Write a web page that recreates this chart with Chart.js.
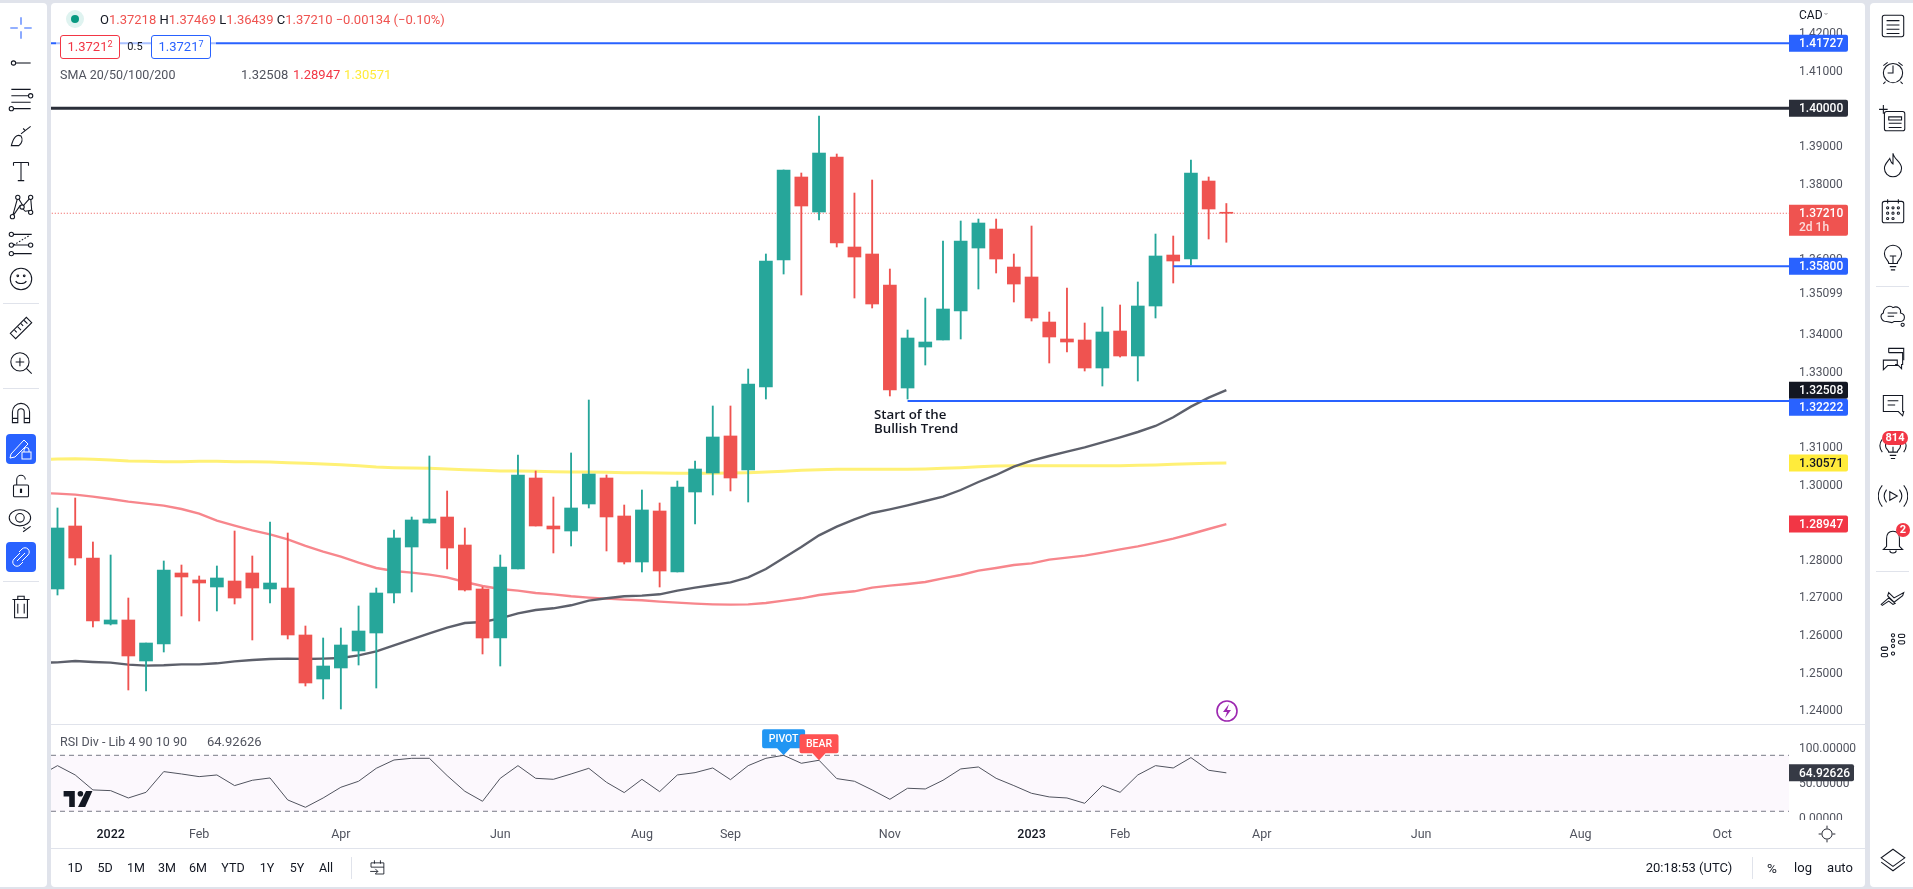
<!DOCTYPE html>
<html>
<head>
<meta charset="utf-8">
<title>USD/CAD weekly</title>
<script src="https://cdn.jsdelivr.net/npm/chart.js@4"></script>
<style>
  html, body { margin: 0; padding: 0; width: 1913px; height: 889px; overflow: hidden; background: #e0e3eb; font-family: Roboto, sans-serif; color: #131722; }
  .abs { position: absolute; white-space: nowrap; }
  .panel { position: absolute; background: #fff; }
  canvas { position: absolute; display: block; }
  .txt { font-size: 12.5px; line-height: 16px; transform: translateY(-50%); }
  .mid { transform: translate(-50%, -50%); }
  .hr { position: absolute; background: #e0e3eb; }
  .box { position: absolute; box-sizing: border-box; height: 24px; width: 60px; top: 35px; background: #fff; border-radius: 3px; border: 1px solid; font-size: 13px; line-height: 22px; text-align: center; }
  .box sup { font-size: 9px; line-height: 0; vertical-align: 4px; }
  svg.icon { position: absolute; fill: none; stroke: #131722; stroke-width: 1; }
</style>
</head>
<body>
<div class="panel" style="left:0;top:3px;width:47px;height:884px;border-radius:0 4px 4px 0"></div>
<div class="panel" style="left:51px;top:3px;width:1814px;height:884px;border-radius:4px"></div>
<div class="panel" style="left:1870px;top:3px;width:43px;height:884px;border-radius:4px 0 0 4px"></div>
<canvas id="priceChart" width="1814" height="721" style="left:51px;top:3px"></canvas>
<canvas id="rsiChart" width="1814" height="123" style="left:51px;top:725px"></canvas>
<div class="panel" style="left:1789px;top:820px;width:76px;height:28px"></div>
<div class="hr" style="left:51px;top:724px;width:1814px;height:1px"></div>
<div class="hr" style="left:51px;top:848px;width:1814px;height:1px"></div>
<div id="overlay"></div>
<script>
// weekly candles, one entry per bar
const opens = [1.27223,1.28897,1.28047,1.26292,1.26399,1.25309,1.25761,1.27648,1.27462,1.27276,1.27435,1.27648,1.27223,1.27249,1.26000,1.24830,1.25123,1.25575,1.26053,1.27116,1.28339,1.28977,1.29136,1.28392,1.27223,1.25920,1.27754,1.30173,1.28897,1.28764,1.29482,1.30173,1.29163,1.27940,1.29296,1.27675,1.29801,1.30306,1.31290,1.30386,1.32592,1.35967,1.38174,1.37243,1.38705,1.36313,1.36127,1.35303,1.32565,1.33655,1.33841,1.34612,1.36286,1.36791,1.35781,1.35516,1.34319,1.33868,1.33841,1.33097,1.34080,1.33416,1.34745,1.36100,1.35994,1.38067,1.37218];
const highs = [1.29376,1.29641,1.28472,1.28126,1.26983,1.25787,1.27967,1.27860,1.27568,1.27834,1.28764,1.28100,1.29003,1.28711,1.26239,1.25920,1.26186,1.26771,1.27249,1.28791,1.29136,1.30758,1.29827,1.28844,1.27276,1.28126,1.30784,1.30359,1.29668,1.30838,1.32246,1.30253,1.29455,1.29854,1.29509,1.30093,1.30625,1.32087,1.32087,1.33070,1.36127,1.38360,1.38280,1.39795,1.38785,1.37748,1.38094,1.35728,1.34107,1.34957,1.36472,1.37004,1.37057,1.37057,1.36127,1.36871,1.34585,1.35223,1.34293,1.34718,1.34771,1.35383,1.36658,1.36605,1.38625,1.38174,1.37469];
const lows = [1.27063,1.27860,1.26213,1.26266,1.24538,1.24511,1.25548,1.26505,1.26372,1.26638,1.26824,1.25867,1.26850,1.25894,1.24644,1.24299,1.24033,1.25202,1.24591,1.26850,1.27143,1.28977,1.27754,1.27169,1.25495,1.25176,1.27754,1.28897,1.28180,1.28366,1.29376,1.28233,1.27887,1.27675,1.27276,1.27675,1.28950,1.29721,1.29828,1.29535,1.32273,1.35595,1.35037,1.37031,1.36313,1.34957,1.34692,1.32353,1.32273,1.33176,1.33841,1.33868,1.35197,1.35622,1.34851,1.34346,1.33230,1.33522,1.33017,1.32618,1.33389,1.32751,1.34426,1.35356,1.35834,1.36526,1.36439];
const closes = [1.28844,1.28047,1.26372,1.26399,1.25442,1.25787,1.27728,1.27542,1.27382,1.27515,1.26983,1.27249,1.27382,1.26000,1.24724,1.25176,1.25734,1.26106,1.27116,1.28578,1.29057,1.29083,1.28312,1.27196,1.25920,1.27807,1.30253,1.28897,1.28818,1.29376,1.30279,1.29137,1.27940,1.29323,1.27701,1.29934,1.30412,1.31263,1.30173,1.32672,1.35941,1.38360,1.37403,1.38811,1.36419,1.36047,1.34798,1.32512,1.33894,1.33788,1.34665,1.36472,1.36951,1.35994,1.35329,1.34426,1.33921,1.33788,1.33097,1.34054,1.33416,1.34745,1.36074,1.35941,1.38280,1.37323,1.37210];

// moving averages
const smaGray = [1.25273,1.25309,1.25282,1.25265,1.25211,1.25185,1.25194,1.25220,1.25220,1.25247,1.25300,1.25335,1.25362,1.25371,1.25362,1.25371,1.25389,1.25459,1.25566,1.25725,1.25885,1.26044,1.26195,1.26319,1.26345,1.26443,1.26576,1.26664,1.26709,1.26789,1.26913,1.26975,1.27028,1.27046,1.27081,1.27178,1.27258,1.27329,1.27400,1.27533,1.27754,1.28047,1.28339,1.28649,1.28880,1.29075,1.29243,1.29340,1.29447,1.29562,1.29677,1.29854,1.30067,1.30253,1.30474,1.30634,1.30758,1.30873,1.30988,1.31121,1.31254,1.31396,1.31555,1.31786,1.32069,1.32308,1.32508];
const smaRed = [1.29757,1.29730,1.29677,1.29615,1.29544,1.29491,1.29438,1.29349,1.29225,1.29039,1.28906,1.28782,1.28676,1.28543,1.28366,1.28215,1.28082,1.27923,1.27781,1.27701,1.27657,1.27604,1.27533,1.27409,1.27302,1.27223,1.27178,1.27116,1.27081,1.27028,1.26992,1.26966,1.26939,1.26922,1.26886,1.26860,1.26833,1.26815,1.26806,1.26815,1.26851,1.26913,1.26975,1.27063,1.27116,1.27161,1.27258,1.27311,1.27356,1.27409,1.27506,1.27595,1.27710,1.27781,1.27861,1.27905,1.28002,1.28056,1.28109,1.28189,1.28277,1.28357,1.28454,1.28561,1.28685,1.28818,1.28947];
const smaYellow = [1.30678,1.30687,1.30669,1.30651,1.30625,1.30616,1.30607,1.30607,1.30616,1.30616,1.30607,1.30607,1.30598,1.30580,1.30563,1.30545,1.30527,1.30501,1.30465,1.30448,1.30439,1.30430,1.30412,1.30394,1.30377,1.30359,1.30359,1.30350,1.30341,1.30333,1.30333,1.30324,1.30315,1.30315,1.30306,1.30297,1.30297,1.30297,1.30306,1.30315,1.30333,1.30350,1.30377,1.30395,1.30404,1.30404,1.30404,1.30404,1.30404,1.30412,1.30430,1.30448,1.30475,1.30492,1.30501,1.30501,1.30501,1.30501,1.30501,1.30501,1.30501,1.30510,1.30519,1.30536,1.30554,1.30563,1.30571];

const rsiValues = [75.2,61.9,40.5,39.5,29.0,37.1,66.7,63.3,59.5,61.9,46.7,54.3,57.6,26.2,15.7,29.0,44.3,52.9,71.4,83.3,85.7,85.7,61.0,38.6,24.3,57.1,75.2,57.1,55.7,63.3,71.4,51.4,36.7,55.7,38.1,61.9,65.2,71.9,55.2,75.2,85.7,90.0,78.6,82.9,56.7,52.9,40.5,27.1,42.9,41.9,54.3,70.5,73.3,57.1,46.7,35.7,30.5,29.0,21.4,46.7,37.1,61.9,75.2,71.9,86.7,68.6,64.93];

// the bar just off the left edge, so the lines run out to the border
const prevGray = 1.25256, prevRed = 1.29775, prevYellow = 1.30660, prevRsi = 61;

// axis ticks
const priceTicks = [1.42,1.41,1.39,1.38,1.36,1.35099,1.34,1.33,1.31,1.30,1.28,1.27,1.26,1.25,1.24];
const rsiTicks = [100,50,0];
const timeTickBars = [3,8,16,25,33,38,47,55,60,68,77,86,94];
const timeTickLabels = ["2022","Feb","Apr","Jun","Aug","Sep","Nov","2023","Feb","Apr","Jun","Aug","Oct"];
const timeTickYears = ["2022","2023"];

// drawn levels: price and the bar they start from
const levelPrices = [1.41727,1.40,1.358,1.32222];
const levelStartBars = [-1,-1,63,48];
const lastPrice = 1.37210;

// price tags on the right axis (tagShift: the 1.32222 tag gets pushed down by its neighbour)
const tagPrices = [1.41727,1.40,1.37210,1.358,1.32508,1.32222,1.30571,1.28947];
const tagColors = ["#2962ff","#2a2e39","#ef5350","#2962ff","#131722","#2962ff","#ffeb3b","#f23645"];
const tagTexts = ["1.41727","1.40000","1.37210","1.35800","1.32508","1.32222","1.30571","1.28947"];
const tagShift = [0,0,0,0,0,6.4,0,0];

const upColor = "#26a69a";
const downColor = "#ef5350";
const fontFamily = "Roboto, sans-serif";
const barIdx = opens.map((_, i) => i);
const xMin = -0.367, xMax = 97.77;

function seriesPoints(values, prev) {
  return [{ x: -1, y: prev }].concat(values.map((v, i) => ({ x: i, y: v })));
}
function flatLine(value, fromBar) {
  return [{ x: fromBar, y: value }, { x: xMax, y: value }];
}
function lineSet(data, color, width, order, extra) {
  return Object.assign({ type: "line", data: data, borderColor: color, borderWidth: width, pointRadius: 0, order: order, tension: 0 }, extra || {});
}
// fixed width axis, without the label padding chart.js would add to the plot
function fitAxis(scale) {
  scale.width = 76;
  scale.paddingTop = 0;
  scale.paddingBottom = 0;
}
function fitTimeAxis(scale) {
  scale.height = 27;
  scale.paddingLeft = 0;
  scale.paddingRight = 0;
}

const candleColors = barIdx.map(i => closes[i] >= opens[i] ? upColor : downColor);

// price tags and the note on the chart
const priceOverlay = {
  id: "priceOverlay",
  afterDraw(chart) {
    const ctx = chart.ctx, y = chart.scales.y, x = chart.scales.x;
    const right = chart.chartArea.right;
    ctx.save();
    ctx.textBaseline = "middle";
    tagPrices.forEach((p, i) => {
      const py = y.getPixelForValue(p) + tagShift[i];
      const h = p === lastPrice ? 31 : 17;
      const top = py - 8.5;
      ctx.fillStyle = tagColors[i];
      ctx.beginPath();
      ctx.roundRect(right, top, 59, h, [0, 2, 2, 0]);
      ctx.fill();
      ctx.fillStyle = tagColors[i] === "#ffeb3b" ? "#131722" : "#fff";
      ctx.font = "500 12px " + fontFamily;
      ctx.fillText(tagTexts[i], right + 10, py + 1);
      if (p === lastPrice) {
        ctx.fillStyle = "rgba(255,255,255,.8)";
        ctx.fillText("2d 1h", right + 10, py + 15);
      }
    });
    ctx.fillStyle = "#131722";
    ctx.font = "600 13.3px 'Open Sans', sans-serif";
    ctx.fillText("Start of the", x.getPixelForValue(46.1), y.getPixelForValue(1.32222) + 14);
    ctx.fillText("Bullish Trend", x.getPixelForValue(46.1), y.getPixelForValue(1.32222) + 28);
    ctx.restore();
  }
};

const priceChart = new Chart(document.getElementById("priceChart"), {
  type: "bar",
  data: {
    datasets: [
      lineSet(flatLine(levelPrices[0], levelStartBars[0]), "#2962ff", 2, 0),
      lineSet(flatLine(levelPrices[1], levelStartBars[1]), "#2a2e39", 3, 0),
      lineSet(flatLine(levelPrices[2], levelStartBars[2]), "#2962ff", 2, 0),
      lineSet(flatLine(levelPrices[3], levelStartBars[3]), "#2962ff", 2, 0),
      { data: barIdx.map(i => ({ x: i, y: [opens[i], closes[i]] })), backgroundColor: candleColors, barThickness: 13, minBarLength: 1, grouped: false, order: 1 },
      { data: barIdx.map(i => ({ x: i, y: [lows[i], highs[i]] })), backgroundColor: candleColors, barThickness: 1.2, grouped: false, order: 2 },
      lineSet(seriesPoints(smaGray, prevGray), "#5d606b", 2.4, 3),
      lineSet(seriesPoints(smaRed, prevRed), "#f7868c", 2.4, 3),
      lineSet(seriesPoints(smaYellow, prevYellow), "#fff176", 3, 3),
      lineSet(flatLine(lastPrice, levelStartBars[0]), "#ef5350", 1, 4, { borderDash: [1, 2] })
    ]
  },
  options: {
    responsive: false,
    animation: false,
    layout: { padding: 0 },
    plugins: { legend: { display: false }, tooltip: { enabled: false } },
    scales: {
      x: { type: "linear", min: xMin, max: xMax, offset: false, display: false },
      y: {
        position: "right",
        min: 1.23634,
        max: 1.42799,
        afterFit: fitAxis,
        afterBuildTicks(scale) { scale.ticks = priceTicks.map(v => ({ value: v })); },
        border: { display: false },
        grid: { display: false, drawTicks: false },
        ticks: {
          padding: 10,
          labelOffset: 1,
          color: "#50535e",
          font: { family: fontFamily, size: 12 },
          callback: v => v.toFixed(5)
        }
      }
    }
  },
  plugins: [priceOverlay]
});

// value tag, pivot flags on the rsi pane
const rsiOverlay = {
  id: "rsiOverlay",
  afterDraw(chart) {
    const ctx = chart.ctx, x = chart.scales.x, y = chart.scales.y;
    const right = chart.chartArea.right;
    function flag(text, bar, color, w) {
      const px = x.getPixelForValue(bar), tip = y.getPixelForValue(rsiValues[bar]);
      ctx.fillStyle = color;
      ctx.beginPath();
      ctx.roundRect(px - w / 2, tip - 26, w, 19, 2);
      ctx.moveTo(px - 7, tip - 7.5);
      ctx.lineTo(px + 7, tip - 7.5);
      ctx.lineTo(px, tip);
      ctx.fill();
      ctx.fillStyle = "#fff";
      ctx.font = "500 10.5px " + fontFamily;
      ctx.textAlign = "center";
      ctx.textBaseline = "middle";
      ctx.fillText(text, px, tip - 16);
    }
    ctx.save();
    flag("PIVOT", 41, "#2196f3", 43);
    flag("BEAR", 43, "#ff5252", 39);
    const last = rsiValues[rsiValues.length - 1];
    const ly = y.getPixelForValue(last);
    ctx.fillStyle = "#363a45";
    ctx.beginPath();
    ctx.roundRect(right, ly - 8.5, 65, 17, [0, 2, 2, 0]);
    ctx.fill();
    ctx.fillStyle = "#fff";
    ctx.textAlign = "left";
    ctx.font = "500 12px " + fontFamily;
    ctx.fillText("64.92626", right + 10, ly + 1);
    ctx.restore();
  }
};

new Chart(document.getElementById("rsiChart"), {
  type: "line",
  data: {
    datasets: [
      lineSet([{ x: xMin, y: 90 }, { x: xMax, y: 90 }], "#787b86", 1, 2, { borderDash: [5, 4], fill: "+1", backgroundColor: "rgba(156,39,176,0.03)" }),
      lineSet([{ x: xMin, y: 10 }, { x: xMax, y: 10 }], "#787b86", 1, 2, { borderDash: [5, 4] }),
      lineSet(seriesPoints(rsiValues, prevRsi), "#50535e", 1, 1)
    ]
  },
  options: {
    responsive: false,
    animation: false,
    layout: { padding: 0 },
    plugins: { legend: { display: false }, tooltip: { enabled: false } },
    scales: {
      x: {
        type: "linear",
        min: xMin,
        max: xMax,
        offset: false,
        afterFit: fitTimeAxis,
        afterBuildTicks(scale) { scale.ticks = timeTickBars.map(v => ({ value: v })); },
        afterTickToLabelConversion(scale) { scale.ticks.forEach((t, i) => { t.label = timeTickLabels[i]; }); },
        border: { display: false },
        grid: { display: false, drawTicks: false },
        ticks: {
          padding: 6,
          autoSkip: false,
          maxRotation: 0,
          color: ctx => timeTickYears.includes(timeTickLabels[ctx.index]) ? "#131722" : "#50535e",
          font: ctx => ({ family: fontFamily, size: 12.5, weight: timeTickYears.includes(timeTickLabels[ctx.index]) ? "500" : "400" })
        }
      },
      y: {
        position: "right",
        min: -3.9,
        max: 133.3,
        afterFit: fitAxis,
        afterBuildTicks(scale) { scale.ticks = rsiTicks.map(v => ({ value: v })); },
        border: { display: false },
        grid: { display: false, drawTicks: false },
        ticks: { padding: 10, labelOffset: 1, color: "#50535e", font: { family: fontFamily, size: 12 }, callback: v => v.toFixed(5) }
      }
    }
  },
  plugins: [rsiOverlay]
});

// page chrome around the charts
const overlay = document.getElementById("overlay");
function text(str, x, y, color, size, extra) {
  const d = document.createElement("div");
  d.className = "abs txt" + (extra && extra.mid ? " mid" : "");
  d.style.left = x + "px";
  d.style.top = y + "px";
  d.style.color = color || "#131722";
  if (size) d.style.fontSize = size + "px";
  d.innerHTML = str;
  overlay.appendChild(d);
}
function icon(inner, cx, cy, size, extraStyle) {
  const s = size || 28;
  overlay.insertAdjacentHTML("beforeend", '<svg class="icon" viewBox="0 0 28 28" width="' + s + '" height="' + s + '" style="left:' + (cx - s / 2) + 'px;top:' + (cy - s / 2) + 'px;' + (extraStyle || "") + '">' + inner + "</svg>");
}
function hrule(x, y, w) {
  overlay.insertAdjacentHTML("beforeend", '<div class="hr" style="left:' + x + 'px;top:' + y + 'px;width:' + w + 'px;height:1px"></div>');
}
function vrule(x, y, h) {
  overlay.insertAdjacentHTML("beforeend", '<div class="hr" style="left:' + x + 'px;top:' + y + 'px;width:1px;height:' + h + 'px"></div>');
}

// legend rows
overlay.insertAdjacentHTML("beforeend", '<div class="abs" style="left:66px;top:10px;width:18px;height:18px;border-radius:50%;background:#dff3f0"></div><div class="abs" style="left:71px;top:15px;width:8px;height:8px;border-radius:50%;background:#089981"></div>');
const red = "#ef5350";
text('O<span style="color:' + red + '">1.37218</span>&nbsp;H<span style="color:' + red + '">1.37469</span>&nbsp;L<span style="color:' + red + '">1.36439</span>&nbsp;C<span style="color:' + red + '">1.37210</span>&nbsp;<span style="color:' + red + '">−0.00134 (−0.10%)</span>', 100, 20, "#131722", 13);
overlay.insertAdjacentHTML("beforeend", '<div class="abs" style="left:56px;top:35px;width:160px;height:24px;background:rgba(255,255,255,.6)"></div>');
overlay.insertAdjacentHTML("beforeend", '<div class="box" style="left:60px;border-color:#f23645;color:#f23645">1.3721<sup>2</sup></div><div class="box" style="left:151px;border-color:#2962ff;color:#2962ff">1.3721<sup>7</sup></div>');
text("0.5", 135, 47, "#131722", 11, { mid: true });
text("SMA 20/50/100/200", 60, 75, "#50535e", 12.5);
text("1.32508", 241, 75, "#50535e", 13);
text("1.28947", 293, 75, "#f23645", 13);
text("1.30571", 344, 75, "#ffeb3b", 13);
text("CAD", 1799, 15, "#131722", 12);
icon('<path d="M11 12l3 3 3-3"/>', 1826, 14, 14);
text("RSI Div - Lib 4 90 10 90", 60, 742, "#50535e", 12.5);
text("64.92626", 207, 742, "#50535e", 13);

// tradingview mark
overlay.insertAdjacentHTML("beforeend", '<svg class="abs" viewBox="0 0 36 20" width="30" height="16" style="left:63px;top:791px"><path fill="#131722" d="M0 0h14v20h-7V7H0zM21 0a3.5 3.5 0 1 1 0 7 3.5 3.5 0 0 1 0-7zM28 0h8l-9 20h-9z"/></svg>');

// bottom bar
const rangeLabels = ["1D","5D","1M","3M","6M","YTD","1Y","5Y","All"];
const rangeCenters = [75,105,136,167,198,233,267,297,326];
rangeLabels.forEach((r, i) => text(r, rangeCenters[i], 868, "#131722", 12.5, { mid: true }));
vrule(351, 857, 22);
vrule(1752, 857, 22);
icon('<path d="M7 8h15v13h-10M7 8v5h15M11 5v4M18 5v4M6 18h9M12 15l3 3-3 3"/>', 377, 868, 24);
text("20:18:53 (UTC)", 1689, 868, "#131722", 13, { mid: true });
text("%", 1772, 868, "#131722", 13.5, { mid: true });
text("log", 1803, 868, "#131722", 13, { mid: true });
text("auto", 1840, 868, "#131722", 13, { mid: true });
icon('<circle cx="14" cy="14" r="5.5"/><path d="M14 5v3M14 20v3M5 14h3M20 14h3"/>', 1827, 834, 26);
icon('<circle cx="14" cy="14" r="10" stroke="#9c27b0" stroke-width="1.6"/><path d="M16 7l-6 8h4l-2 6 6-8h-4z" fill="#9c27b0" stroke="none"/>', 1226.5, 711, 28);

// left toolbar
const leftIcons = [
  ['<path d="M14 4v7M14 17v7M4 14h7M17 14h7" stroke="#2962ff"/>', 28],
  ['<circle cx="7" cy="14" r="2"/><path d="M9 14h14"/>', 63],
  ['<path d="M5 5h18M5 11h18M5 17h18M5 23h18"/><circle cx="23" cy="11" r="2" fill="#fff"/><circle cx="5" cy="23" r="2" fill="#fff"/>', 99],
  ['<path d="M5 23c2-8 5-11 9-9 2 3 1 7-2 9zM14 12l9-7M18 9l-2-2"/>', 136],
  ['<path d="M7 6h14M14 6v17M11 23h6M7 6v3M21 6v3"/>', 171],
  ['<path d="M6 23L11 5l5 8 7-8 1 12-6 1-5-5-7 10z"/><circle cx="6" cy="23" r="2" fill="#fff"/><circle cx="11" cy="5" r="2" fill="#fff"/><circle cx="23" cy="5" r="2" fill="#fff"/><circle cx="15" cy="14" r="2" fill="#fff"/><circle cx="23" cy="19" r="2" fill="#fff"/>', 207],
  ['<path d="M7 5h17M7 15h15M7 23h17"/><path d="M7 15l15-9" stroke-dasharray="1.5 1.5"/><circle cx="5" cy="5" r="2"/><circle cx="5" cy="15" r="2"/><circle cx="5" cy="23" r="2"/><circle cx="23" cy="15" r="2" fill="#fff"/>', 244],
  ['<circle cx="14" cy="14" r="10"/><path d="M9 16c2 3 8 3 10 0"/><circle cx="11" cy="11" r=".8"/><circle cx="17" cy="11" r=".8"/>', 279],
  ['<path d="M4 19L19 4l5 5L9 24zM8 16l2 2M11 13l3 3M14 10l2 2M17 7l3 3"/>', 328],
  ['<circle cx="13" cy="13" r="8.5"/><path d="M19 19l5 5M9 13h8M13 9v8"/>', 363],
  ['<path d="M6 23V13a8 8 0 0 1 16 0v10h-5V13a3 3 0 0 0-6 0v10zM6 19h5M17 19h5"/>', 413],
  ['<rect x="7" y="13" width="14" height="11" rx="1"/><path d="M10 13V8a4 4 0 0 1 8 0"/><rect x="13.5" y="17" width="1" height="3"/>', 486],
  ['<ellipse cx="13" cy="12" rx="10" ry="7.5"/><circle cx="13" cy="12" r="4"/><path d="M16 25l7-5M18 22l-2-1"/>', 520],
  ['<path d="M8 7h12v17H8zM6 7h16M11 7V4h6v3M11 11v9M17 11v9"/>', 607]
];
leftIcons.forEach(ic => icon(ic[0], 21, ic[1], 30));
hrule(3, 303, 36);
hrule(3, 388, 36);
hrule(3, 581, 36);
overlay.insertAdjacentHTML("beforeend", '<div class="abs" style="left:6px;top:434px;width:30px;height:30px;border-radius:4px;background:#2962ff"></div><div class="abs" style="left:6px;top:542px;width:30px;height:30px;border-radius:4px;background:#2962ff"></div>');
icon('<path d="M4 19L17 5l4 4L8 22l-5 1z" stroke="#fff"/><rect x="15" y="17" width="9" height="7" stroke="#fff"/><path d="M17 17v-2a2.5 2.5 0 0 1 5 0v2" stroke="#fff"/>', 21, 449, 28);
icon('<path d="M12 9l3-3a4 4 0 0 1 6 6l-6 6M16 19l-3 3a4 4 0 0 1-6-6l6-6M10 18l8-8" stroke="#fff"/>', 21, 557, 28);

// right toolbar
const rightIcons = [
  ['<rect x="4" y="4" width="20" height="20" rx="2"/><path d="M8 9h12M8 13h12M8 17h12M8 21h12"/>', 26],
  ['<circle cx="14" cy="15" r="9"/><path d="M14 8v7H9M5 8l4-3M23 8l-4-3M7 23l-2 2M21 23l2 2"/>', 72],
  ['<rect x="6" y="7" width="19" height="18" rx="2"/><path d="M10 12h12v3H10zM10 18h12M10 22h12M1 5h8M5 1v8"/>', 119],
  ['<path d="M14 3c1 6 8 8 8 14a8 8 0 0 1-16 0c0-4 3-6 5-9 1 3 1 4 3 5z"/>', 165],
  ['<rect x="4" y="5" width="20" height="20" rx="2"/><path d="M9 3v4M19 3v4"/><circle cx="9" cy="11" r="1"/><circle cx="14" cy="11" r="1"/><circle cx="19" cy="11" r="1"/><circle cx="9" cy="16" r="1"/><circle cx="14" cy="16" r="1"/><circle cx="19" cy="16" r="1"/><circle cx="9" cy="21" r="1"/><circle cx="14" cy="21" r="1"/>', 211],
  ['<path d="M10 20c0-3-4-4-4-9a8 8 0 0 1 16 0c0 5-4 6-4 9zM11 23h6M12 26h4M11 13h6M14 13v7"/>', 257],
  ['<path d="M8 22c-5 0-7-6-3-8 0-5 6-8 9-5 4-2 8 1 7 5 5 1 5 8-1 8h-5l-2 1zM9 14h9M9 17h6"/><circle cx="23" cy="25" r="1.5"/>', 313],
  ['<path d="M10 9h13v11h-1v4l-4-4h-2M18 16H5v9l4-4h9z"/><path d="M10 9V5h14v11"/>', 358],
  ['<path d="M5 6h18v15h1l-1 4-4-4H5zM9 11h10M9 15h7"/>', 404],
  ['<path d="M10 16c0-2-3-3-3-6a7 7 0 0 1 14 0c0 3-3 4-3 6zM11 19h6M12 22h4M14 11v5M4 4c-3 4-3 8 0 12M24 4c3 4 3 8 0 12"/>', 450],
  ['<path d="M11 10l7 4-7 4zM8 8c-3 4-3 8 0 12M20 8c3 4 3 8 0 12M4 4c-5 6-5 14 0 20M24 4c5 6 5 14 0 20"/>', 496],
  ['<path d="M14 4c-4 0-6 3-6 7v7l-3 3h18l-3-3v-7c0-4-2-7-6-7zM11 22c0 3 6 3 6 0"/>', 542],
  ['<path d="M10 8l5 5 9-5-1 3-8 6-6-6zM3 19l7-6 6 5-2 1-4-3-6 4z"/>', 599],
  ['<circle cx="14" cy="5" r="1.5"/><circle cx="14" cy="10" r="1.5"/><circle cx="14" cy="15" r="1.5"/><circle cx="14" cy="22" r="1.5"/><rect x="19" y="4" width="6" height="3" rx="1.5"/><rect x="19" y="10" width="6" height="3" rx="1.5"/><rect x="3" y="16" width="6" height="3" rx="1.5"/><rect x="3" y="22" width="6" height="3" rx="1.5"/>', 645],
  ['<path d="M14 4l11 8-11 8-11-8zM3 16l11 8 11-8"/>', 860]
];
rightIcons.forEach(ic => icon(ic[0], 1893, ic[1], 30));
hrule(1876, 286, 33);
hrule(1876, 571, 33);
overlay.insertAdjacentHTML("beforeend", '<div class="abs" style="left:1882px;top:431px;width:26px;height:14px;border-radius:8px;background:#f23645;color:#fff;font-size:11px;font-weight:700;line-height:14px;text-align:center">814</div><div class="abs" style="left:1896px;top:523px;width:14px;height:14px;border-radius:50%;background:#f23645;color:#fff;font-size:11px;font-weight:700;line-height:14px;text-align:center">2</div>');
</script>
</body>
</html>
